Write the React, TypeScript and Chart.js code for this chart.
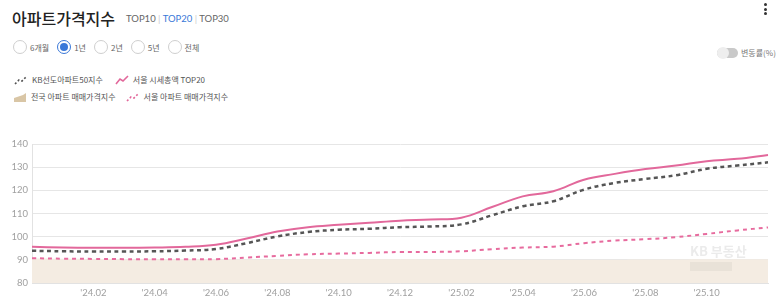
import React, { useEffect, useRef } from "react";
import { Chart, registerables } from "chart.js";

Chart.register(...registerables);

const months = [
  "'23.12", "'24.01", "'24.02", "'24.03", "'24.04", "'24.05", "'24.06", "'24.07", "'24.08",
  "'24.09", "'24.10", "'24.11", "'24.12", "'25.01", "'25.02", "'25.03", "'25.04", "'25.05",
  "'25.06", "'25.07", "'25.08", "'25.09", "'25.10", "'25.11", "'25.12",
];
const shownTicks = ["'24.02", "'24.04", "'24.06", "'24.08", "'24.10", "'24.12", "'25.02", "'25.04", "'25.06", "'25.08", "'25.10"];

const kbLeading50 = [
  93.9, 93.7, 93.6, 93.6, 93.7, 94.0, 94.7, 97.2, 100.1, 102.0, 103.0, 103.4, 104.1,
  104.4, 105.3, 109.2, 113.1, 115.3, 120.3, 123.2, 124.9, 126.5, 129.3, 130.7, 132.1,
];
const seoulTop20 = [
  95.6, 95.3, 95.2, 95.2, 95.3, 95.6, 96.5, 99.2, 102.2, 104.1, 105.1, 106.0, 106.9,
  107.4, 108.2, 112.8, 117.4, 119.6, 124.6, 127.1, 129.2, 130.7, 132.6, 133.6, 135.3,
];
const nationalApt = [
  90.6, 90.5, 90.4, 90.3, 90.2, 90.2, 90.1, 90.1, 90.1, 90.2, 90.2, 90.2, 90.2,
  90.1, 90.1, 90.0, 90.0, 90.0, 90.0, 90.0, 90.1, 90.1, 90.2, 90.2, 90.3,
];
const seoulApt = [
  90.7, 90.5, 90.4, 90.3, 90.3, 90.3, 90.3, 91.0, 91.7, 92.4, 92.7, 93.0, 93.4,
  93.4, 93.7, 94.6, 95.3, 95.7, 97.2, 98.3, 98.9, 99.8, 101.2, 102.7, 104.0,
];
const yTicks = [80, 90, 100, 110, 120, 130, 140];

const periods = ["6개월", "1년", "2년", "5년", "전체"];

const FONT = "'Noto Sans CJK KR', 'Noto Sans', sans-serif";

function ChartCanvas() {
  const ref = useRef<HTMLCanvasElement | null>(null);
  useEffect(() => {
    if (!ref.current) return;
    const chart = new Chart(ref.current, {
      type: "line",
      data: {
        labels: months,
        datasets: [
          {
            label: "KB선도아파트50지수",
            data: kbLeading50,
            borderColor: "#555555",
            borderWidth: 2.5,
            borderDash: [4, 3.5],
            pointRadius: 0,
            tension: 0.4,
            fill: false,
            order: 1,
          },
          {
            label: "서울 시세총액 TOP20",
            data: seoulTop20,
            borderColor: "#e2689b",
            borderWidth: 2,
            pointRadius: 0,
            tension: 0.4,
            fill: false,
            order: 0,
          },
          {
            label: "전국 아파트 매매가격지수",
            data: nationalApt,
            borderColor: "rgba(0,0,0,0)",
            borderWidth: 0,
            backgroundColor: "#f4ece2",
            pointRadius: 0,
            tension: 0.4,
            fill: "start",
            order: 3,
          },
          {
            label: "서울 아파트 매매가격지수",
            data: seoulApt,
            borderColor: "#e76b9e",
            borderWidth: 2,
            borderDash: [4, 4],
            pointRadius: 0,
            tension: 0.4,
            fill: false,
            order: 2,
          },
        ],
      },
      options: {
        animation: false,
        responsive: false,
        maintainAspectRatio: false,
        layout: { padding: { top: 14, right: 12, left: 0, bottom: 0 } },
        plugins: { legend: { display: false }, tooltip: { enabled: false } },
        scales: {
          x: {
            grid: { display: false, drawTicks: false },
            border: { display: true, color: "#e2e2e2" },
            ticks: {
              autoSkip: false,
              maxRotation: 0,
              minRotation: 0,
              color: "#a0a0a0",
              font: { family: "Lato, 'Noto Sans', sans-serif", size: 9.5 },
              padding: 4,
              callback: (v: any, i: number) => (shownTicks.includes(months[i]) ? months[i] : ""),
            },
            afterFit: (s: any) => {
              s.height = 24;
            },
          },
          y: {
            min: yTicks[0],
            max: yTicks[yTicks.length - 1],
            afterBuildTicks: (s: any) => {
              s.ticks = yTicks.map((v) => ({ value: v }));
            },
            grid: { color: "#e6e6e6", drawTicks: false },
            border: { display: true, color: "#e2e2e2" },
            ticks: {
              color: "#a0a0a0",
              font: { family: "Lato, 'Noto Sans', sans-serif", size: 9.5 },
              padding: 4,
            },
            afterFit: (s: any) => {
              s.width = 32;
            },
          },
        },
      },
    });
    return () => chart.destroy();
  }, []);
  return (
    <canvas
      ref={ref}
      width={780}
      height={177}
      style={{ position: "absolute", left: 0, top: 130, width: 780, height: 177 }}
    />
  );
}

function LegendIcon({ kind }: { kind: string }) {
  if (kind === "area") {
    return (
      <svg width="12" height="10" style={{ marginRight: 5 }}>
        <path d="M0 10 L0 6 L3 5 L6 4 L9 3 L12 1 L12 10 Z" fill="#d9c6a6" />
      </svg>
    );
  }
  if (kind === "solid") {
    return (
      <svg width="14" height="10" style={{ marginRight: 4 }}>
        <path d="M1 9 L5 4 L8 6 L13 1" stroke="#e2689b" strokeWidth="1.6" fill="none" />
      </svg>
    );
  }
  const c = kind === "gray" ? "#555555" : "#e2689b";
  return (
    <svg width="14" height="10" style={{ marginRight: 4 }}>
      <path d="M1 9 L5 5 L8 6 L13 1" stroke={c} strokeWidth="1.6" strokeDasharray="2 2" fill="none" />
    </svg>
  );
}

export default function App() {
  return (
    <div
      style={{
        position: "absolute",
        left: 0,
        top: 0,
        width: 780,
        height: 307,
        background: "#ffffff",
        overflow: "hidden",
        fontFamily: FONT,
      }}
    >
      <div style={{ position: "absolute", left: 12, top: 6, fontSize: 16, fontWeight: 500, color: "#222", lineHeight: "24px" }}>
        아파트가격지수
      </div>
      <div style={{ position: "absolute", left: 126, top: 12, fontSize: 9.5, color: "#666", lineHeight: "14px", fontFamily: "Lato, 'Noto Sans', sans-serif" }}>
        TOP10 <span style={{ color: "#ccc" }}>|</span> <span style={{ color: "#3a78d8" }}>TOP20</span>{" "}
        <span style={{ color: "#ccc" }}>|</span> TOP30
      </div>
      <div style={{ position: "absolute", left: 764, top: 3 }}>
        {[0, 1, 2].map((i) => (
          <div key={i} style={{ width: 3, height: 3, borderRadius: 2, background: "#333", marginBottom: 1.5 }} />
        ))}
      </div>
      <div style={{ position: "absolute", left: 13, top: 40, display: "flex", alignItems: "center" }}>
        {periods.map((p, i) => (
          <div key={p} style={{ display: "flex", alignItems: "center", marginRight: 8 }}>
            <div
              style={{
                width: 14,
                height: 14,
                borderRadius: 8,
                border: i === 1 ? "1px solid #3a78d8" : "1px solid #cfcfcf",
                boxSizing: "border-box",
                display: "flex",
                alignItems: "center",
                justifyContent: "center",
                marginRight: 3,
              }}
            >
              {i === 1 && <div style={{ width: 8, height: 8, borderRadius: 4, background: "#3a78d8" }} />}
            </div>
            <span style={{ fontSize: 8, color: "#666" }}>{p}</span>
          </div>
        ))}
      </div>
      <div style={{ position: "absolute", left: 717, top: 47, display: "flex", alignItems: "center" }}>
        <div style={{ position: "relative", width: 21, height: 10, borderRadius: 5, background: "#c9c9c9" }}>
          <div style={{ position: "absolute", left: 0, top: -1, width: 12, height: 12, borderRadius: 6, background: "#eeeeee" }} />
        </div>
        <span style={{ fontSize: 8, color: "#777", marginLeft: 3 }}>변동률(%)</span>
      </div>
      <div style={{ position: "absolute", left: 14, top: 73, fontSize: 8, color: "#555", lineHeight: "14px" }}>
        <div style={{ display: "flex", alignItems: "center" }}>
          <LegendIcon kind="gray" />
          <span style={{ marginRight: 12 }}>KB선도아파트50지수</span>
          <LegendIcon kind="solid" />
          <span>서울 시세총액 TOP20</span>
        </div>
        <div style={{ display: "flex", alignItems: "center", marginTop: 3 }}>
          <LegendIcon kind="area" />
          <span style={{ marginRight: 10 }}>전국 아파트 매매가격지수</span>
          <LegendIcon kind="pinkdash" />
          <span>서울 아파트 매매가격지수</span>
        </div>
      </div>
      <ChartCanvas />
      <div style={{ position: "absolute", left: 690, top: 243, color: "#ebebeb", fontSize: 13, fontWeight: 700, fontFamily: FONT, lineHeight: "16px" }}>
        KB 부동산
      </div>
      <div style={{ position: "absolute", left: 690, top: 262, width: 42, height: 9, background: "#e9e2d8" }} />
    </div>
  );
}
